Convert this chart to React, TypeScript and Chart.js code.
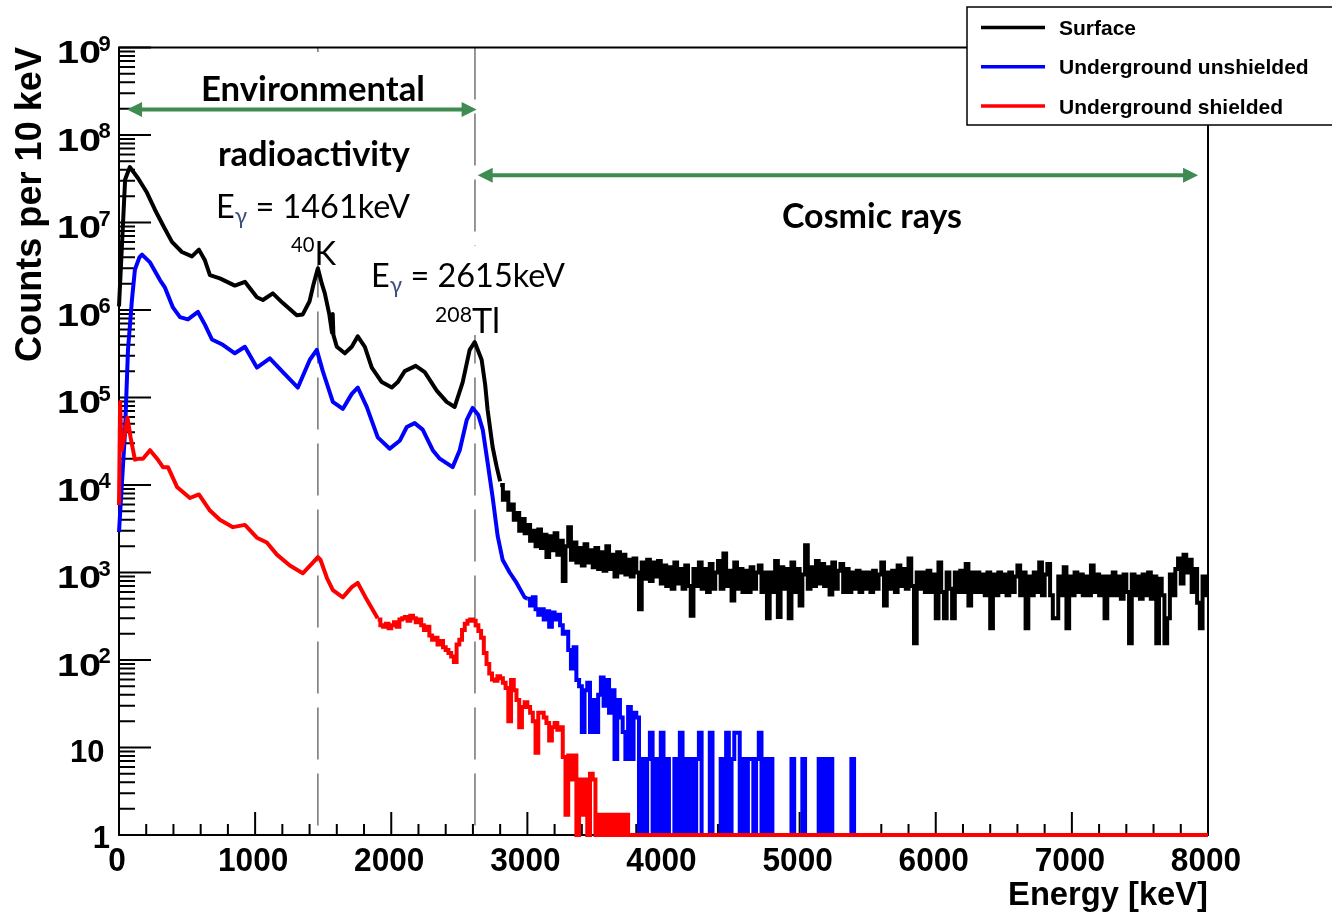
import React, { useEffect, useRef } from "react";
import { Chart, registerables } from "chart.js";

Chart.register(...registerables);

// ---------------- axes ----------------
const X_MIN = 0;
const X_MAX = 8000;
const Y_MIN = 1;
const Y_MAX = 1e9;
const BIN_WIDTH = 20; // keV, bin width used for the noisy parts of the spectra

const xTickLabels = ["0", "1000", "2000", "3000", "4000", "5000", "6000", "7000", "8000"];
const xMinorStep = 200;
const yDecadeExponents = [0, 1, 2, 3, 4, 5, 6, 7, 8, 9];
const xTitle = "Energy [keV]";
const yTitle = "Counts per 10 keV";

// ---------------- series ----------------
const seriesNames = ["Surface", "Underground unshielded", "Underground shielded"];
const seriesColors = ["#000000", "#0000ff", "#ff0000"];

// Surface: smooth part (energy keV, counts)
const surfaceSmoothEnergy = [
  0, 45, 80, 140, 205, 264, 323, 389, 462, 536, 587, 631, 668, 741, 851, 925, 1013, 1057, 1130, 1204,
  1306, 1350, 1400, 1430, 1461, 1490, 1512, 1545, 1565, 1570, 1575, 1600, 1659, 1710, 1754, 1806, 1857,
  1930, 2004, 2048, 2099, 2180, 2246, 2334, 2407, 2466, 2525, 2576, 2613, 2664, 2690, 2708, 2745, 2775, 2800,
];
const surfaceSmoothCounts = [
  1.1e6, 3.1e7, 4.3e7, 3.2e7, 2.2e7, 1.4e7, 9.3e6, 6.0e6, 4.6e6, 4.1e6, 4.9e6, 3.7e6, 2.5e6, 2.3e6, 1.9e6, 2.1e6, 1.4e6, 1.3e6, 1.55e6, 1.2e6,
  8.7e5, 8.9e5, 1.26e6, 2.0e6, 3.0e6, 2.0e6, 1.55e6, 8.9e5, 5.5e5, 9.0e5, 5.2e5, 3.8e5, 3.2e5, 3.8e5, 5.0e5, 3.8e5, 2.2e5,
  1.5e5, 1.3e5, 1.5e5, 2.0e5, 2.3e5, 1.95e5, 1.2e5, 8.9e4, 7.8e4, 1.5e5, 3.5e5, 4.3e5, 2.7e5, 1.4e5, 7.2e4, 2.7e4, 1.6e4, 1.1e4,
];
// Surface: binned (20 keV) part from 2800 keV
const surfaceBinStart = 2800;
const surfaceBinCounts = [
  10000, 6800, 8200, 5200, 6000, 4000, 4800, 3000, 4100, 2800,
  3500, 2300, 3000, 2000, 3100, 1900, 2700, 1500, 2600, 1800,
  2800, 1600, 2300, 800, 2000, 3300, 1400, 2200, 1300, 1900,
  1200, 2100, 1300, 1800, 1150, 1900, 1100, 1700, 1050, 2000,
  1100, 1600, 900, 1700, 1000, 1600, 950, 1400, 900, 1450,
  1000, 380, 1300, 850, 1400, 800, 1300, 900, 1350, 750,
  1200, 700, 1150, 650, 1300, 750, 1100, 650, 1200, 700,
  320, 1100, 700, 1300, 650, 1100, 600, 1250, 650, 1000,
  1350, 650, 1650, 700, 1050, 480, 1300, 650, 1100, 600,
  1050, 600, 1150, 650, 1000, 1200, 600, 1000, 300, 1000,
  600, 1350, 310, 1150, 650, 1100, 300, 1300, 600, 1100,
  420, 950, 2050, 650, 1150, 700, 1350, 750, 1250, 700,
  1150, 560, 1300, 650, 1050, 1250, 600, 1100, 600, 1000,
  650, 1050, 600, 1000, 650, 1000, 600, 1050, 650, 950,
  1300, 420, 1000, 650, 1050, 600, 1200, 700, 1100, 650,
  1450, 700, 155, 1000, 650, 1000, 600, 1050, 600, 950,
  300, 1300, 600, 300, 1000, 650, 300, 1000, 600, 1050,
  600, 1250, 420, 1000, 600, 1000, 600, 950, 550, 1000,
  230, 950, 550, 1000, 600, 950, 550, 1000, 600, 900,
  1200, 550, 1000, 230, 900, 550, 1000, 600, 1300, 550,
  950, 1250, 550, 300, 300, 900, 550, 1150, 230, 900,
  550, 1000, 600, 950, 550, 900, 550, 1200, 600, 950,
  550, 900, 300, 900, 550, 1000, 550, 900, 500, 950,
  600, 155, 950, 550, 900, 500, 950, 550, 1000, 500,
  900, 155, 850, 550, 155, 300, 950, 550, 1100, 1450,
  750, 1600, 1000, 1400, 600, 1100, 450, 230, 900, 550,
];

// Underground unshielded: smooth part
const unshieldedSmoothEnergy = [
  0, 44, 66, 95, 117, 150, 169, 228, 301, 338, 396, 448, 506, 580, 631, 683, 763, 851, 925, 1013,
  1108, 1204, 1314, 1402, 1453, 1497, 1571, 1644, 1710, 1754, 1820, 1901, 1989, 2062, 2114, 2172, 2231, 2305, 2356, 2451,
  2503, 2554, 2598, 2640, 2672, 2708, 2745, 2782, 2818, 2870, 2921, 2980, 3000,
];
const unshieldedSmoothCounts = [
  2900, 4.0e4, 3.5e5, 1.3e6, 2.9e6, 4.0e6, 4.3e6, 3.5e6, 2.2e6, 1.8e6, 1.07e6, 8.3e5, 7.8e5, 9.5e5, 6.8e5, 4.6e5, 4.0e5, 3.2e5, 3.8e5, 2.2e5,
  2.8e5, 1.95e5, 1.3e5, 2.7e5, 3.5e5, 2.0e5, 8.9e4, 7.4e4, 1.1e5, 1.3e5, 7.8e4, 3.5e4, 2.6e4, 3.2e4, 4.6e4, 5.1e4, 4.3e4, 2.5e4, 2.0e4, 1.6e4,
  2.5e4, 5.5e4, 7.6e4, 6.3e4, 4.3e4, 1.8e4, 7200, 2600, 1400, 1000, 760, 520, 500,
];
// Underground unshielded: binned (20 keV) part from 3000 keV
const unshieldedBinStart = 3000;
const unshieldedBinCounts = [
  500, 420, 520, 380, 330, 380, 290, 360, 240, 350,
  290, 330, 250, 200, 210, 130, 80, 140, 59, 50,
  15, 45, 55, 15, 35, 15, 40, 63, 30, 59,
  25, 45, 7.4, 35, 22, 15, 7.4, 29, 7.4, 25,
  22, 0, 7.4, 0, 7.4, 14.7, 0, 7.4, 0, 14.7,
  0, 7.4, 0, 0, 7.4, 0, 14.7, 0, 7.4, 0,
  7.4, 0, 7.4, 14.7, 0, 0, 0, 14.7, 0, 0,
  0, 7.4, 0, 14.7, 0, 7.4, 14.7, 14.7, 0, 7.4,
  0, 7.4, 7.4, 0, 7.4, 14.7, 0, 7.4, 0, 7.4,
  0, 0, 0, 0, 0, 0, 0, 7.4, 0, 0,
  0, 7.4, 0, 0, 0, 0, 0, 7.4, 0, 7.4,
  0, 7.4, 0, 0, 0, 0, 0, 0, 0, 7.4,
  0, 0,
];

// Underground shielded: smooth part
const shieldedSmoothEnergy = [
  0, 8, 20, 45, 62, 85, 117, 150, 176, 228, 280, 323, 360, 426, 521, 587, 668, 741, 837, 925,
  1013, 1086, 1160, 1255, 1350, 1424, 1461, 1480, 1527, 1571, 1644, 1710, 1754, 1820, 1900,
];
const shieldedSmoothCounts = [
  5900, 8.9e4, 2.5e4, 4.0e4, 5.9e4, 3.5e4, 1.95e4, 2.0e4, 2.0e4, 2.5e4, 2.0e4, 1.6e4, 1.6e4, 9500, 7100, 7800, 5100, 4000, 3300, 3500,
  2500, 2200, 1600, 1200, 980, 1300, 1500, 1400, 870, 630, 520, 680, 760, 490, 300,
];
// Underground shielded: binned (20 keV) part from 1900 keV
const shieldedBinStart = 1900;
const shieldedBinCounts = [
  290, 250, 240, 260, 230, 250, 270, 240, 290, 300,
  310, 280, 320, 300, 270, 290, 250, 220, 240, 190,
  170, 180, 150, 165, 140, 130, 120, 110, 95, 150,
  170, 220, 260, 280, 290, 280, 250, 215, 180, 120,
  90, 70, 60, 58, 65, 62, 55, 48, 20, 59,
  45, 35, 17, 29, 33, 29, 25, 20, 8.7, 25,
  25, 22, 19, 12, 17, 19, 16, 17, 7.8, 1.7,
  8.1, 4.3, 8.1, 0, 4.3, 1.7, 4.3, 0, 5.0, 4.3,
  0, 1.7, 0, 1.7, 0, 1.7, 0, 1.7, 0, 1.7,
  0, 1.7, 0, 0, 0,
];

// ---------------- annotations ----------------
const markerEnergies = [1461, 2615];
const envArrow = { from: 59, to: 2627, level: 1.95e8 };
const cosmicArrow = { from: 2635, to: 7927, level: 3.47e7 };
// white text-box backgrounds (pixel rectangles: left, top, right, bottom)
const textBoxes = [
  [196, 52, 432, 228],
  [288, 228, 340, 265],
  [366, 246, 570, 335],
];

const ROOT_FONT = '"Liberation Sans", Arial, sans-serif';
const NOTE_FONT = 'Lato, "Noto Sans", sans-serif';
const ARROW_GREEN = "#3f8b52";
const GAMMA_COLOR = "#3d4f7d";

// ---------------- helpers ----------------
const clampLog = (v: number) => (v > Y_MIN ? v : Y_MIN);
const smoothPoints = (E: number[], C: number[]) => E.map((e, i) => ({ x: e, y: clampLog(C[i]) }));
const binPoints = (start: number, counts: number[], closeAt: number) => {
  const pts = counts.map((c, i) => ({ x: start + i * BIN_WIDTH, y: clampLog(c) }));
  pts.push({ x: closeAt, y: clampLog(counts[counts.length - 1]) });
  return pts;
};

type Run = { t: string; s?: number; dy?: number; color?: string };
function drawRuns(ctx: CanvasRenderingContext2D, runs: Run[], left: number, baseline: number, weight: string, family: string, targetWidth: number) {
  const widthAt = (size: number) =>
    runs.reduce((w, r) => {
      ctx.font = `${weight} ${size * (r.s ?? 1)}px ${family}`;
      return w + ctx.measureText(r.t).width;
    }, 0);
  const size = (100 * targetWidth) / widthAt(100);
  let cx = left;
  ctx.textAlign = "left";
  ctx.textBaseline = "alphabetic";
  runs.forEach((r) => {
    ctx.font = `${weight} ${size * (r.s ?? 1)}px ${family}`;
    ctx.fillStyle = r.color ?? "#000";
    ctx.fillText(r.t, cx, baseline + (r.dy ?? 0));
    cx += ctx.measureText(r.t).width;
  });
}

function drawText(
  ctx: CanvasRenderingContext2D,
  text: string,
  o: { x: number; y: number; size: number; weight?: string; family?: string; align?: "left" | "right" | "center"; scaleX?: number; width?: number; color?: string }
) {
  ctx.font = `${o.weight ?? "bold"} ${o.size}px ${o.family ?? ROOT_FONT}`;
  const w = ctx.measureText(text).width;
  const sx = o.width ? o.width / w : o.scaleX ?? 1;
  const tw = w * sx;
  const left = o.align === "right" ? o.x - tw : o.align === "center" ? o.x - tw / 2 : o.x;
  ctx.save();
  ctx.translate(left, o.y);
  ctx.scale(sx, 1);
  ctx.textAlign = "left";
  ctx.textBaseline = "alphabetic";
  ctx.fillStyle = o.color ?? "#000";
  ctx.fillText(text, 0, 0);
  ctx.restore();
}

function drawArrow(ctx: CanvasRenderingContext2D, x1: number, x2: number, y: number) {
  const head = 15;
  const half = 7.5;
  ctx.strokeStyle = ARROW_GREEN;
  ctx.fillStyle = ARROW_GREEN;
  ctx.lineWidth = 4;
  ctx.beginPath();
  ctx.moveTo(x1 + head - 2, y);
  ctx.lineTo(x2 - head + 2, y);
  ctx.stroke();
  ctx.beginPath();
  ctx.moveTo(x1, y);
  ctx.lineTo(x1 + head, y - half);
  ctx.lineTo(x1 + head, y + half);
  ctx.closePath();
  ctx.fill();
  ctx.beginPath();
  ctx.moveTo(x2, y);
  ctx.lineTo(x2 - head, y - half);
  ctx.lineTo(x2 - head, y + half);
  ctx.closePath();
  ctx.fill();
}

const rootStylePlugin = {
  id: "rootStyle",
  beforeDatasetsDraw(chart: any) {
    const { ctx, chartArea: a } = chart;
    const xs = chart.scales.x;
    const ys = chart.scales.y;
    ctx.save();
    // marker energies (dashed)
    ctx.strokeStyle = "#7c7c7c";
    ctx.lineWidth = 1.6;
    ctx.setLineDash([52, 14]);
    markerEnergies.forEach((e) => {
      const px = xs.getPixelForValue(e);
      ctx.beginPath();
      ctx.moveTo(px, a.top);
      ctx.lineTo(px, a.bottom);
      ctx.stroke();
    });
    ctx.setLineDash([]);
    // white text boxes hide the dashed lines behind the annotations
    ctx.fillStyle = "#fff";
    textBoxes.forEach(([l, t, r, b]) => ctx.fillRect(l, t, r - l, b - t));
    // frame
    ctx.strokeStyle = "#000";
    ctx.lineWidth = 2;
    ctx.strokeRect(a.left, a.top, a.right - a.left, a.bottom - a.top);
    // ticks
    ctx.beginPath();
    yDecadeExponents.forEach((n) => {
      for (let m = 1; m <= 9; m++) {
        const v = m * Math.pow(10, n);
        if (v > Y_MAX) break;
        const py = ys.getPixelForValue(v);
        const len = m === 1 ? 32 : 16;
        ctx.moveTo(a.left, py);
        ctx.lineTo(a.left + len, py);
      }
    });
    for (let e = X_MIN; e <= X_MAX; e += xMinorStep) {
      const px = xs.getPixelForValue(e);
      const len = e % 1000 === 0 ? 23 : 11;
      ctx.moveTo(px, a.bottom);
      ctx.lineTo(px, a.bottom - len);
    }
    ctx.stroke();
    ctx.restore();
  },
  afterDraw(chart: any) {
    const { ctx, chartArea: a } = chart;
    const xs = chart.scales.x;
    const ys = chart.scales.y;
    ctx.save();

    // y tick labels
    yDecadeExponents.forEach((n) => {
      const py = ys.getPixelForValue(Math.pow(10, n));
      if (n === 0) {
        drawText(ctx, "1", { x: a.left - 9, y: py + 13, size: 31, align: "right" });
      } else if (n === 1) {
        drawText(ctx, "10", { x: a.left - 14.5, y: py + 14.5, size: 31, align: "right" });
      } else {
        drawText(ctx, "10", { x: a.left - 62, y: py + 15.5, size: 31, width: 44, align: "left" });
        drawText(ctx, String(n), { x: a.left - 20.5, y: py + 3, size: 22, align: "left" });
      }
    });

    // x tick labels
    xTickLabels.forEach((lbl) => {
      const px = xs.getPixelForValue(Number(lbl));
      drawText(ctx, lbl, { x: px - 2, y: a.bottom + 36, size: 34, scaleX: 0.93, align: "center" });
    });

    // axis titles
    ctx.font = `bold 100px ${ROOT_FONT}`;
    const xtSize = (100 * 200) / ctx.measureText(xTitle).width;
    drawText(ctx, xTitle, { x: a.right, y: 905, size: xtSize, align: "right" });

    ctx.font = `bold 100px ${ROOT_FONT}`;
    const ytSize = (100 * 315) / ctx.measureText(yTitle).width;
    ctx.save();
    ctx.translate(41, 204.5);
    ctx.rotate(-Math.PI / 2);
    ctx.font = `bold ${ytSize}px ${ROOT_FONT}`;
    ctx.fillStyle = "#000";
    ctx.textAlign = "center";
    ctx.textBaseline = "alphabetic";
    ctx.fillText(yTitle, 0, 0);
    ctx.restore();

    // annotation texts
    drawRuns(ctx, [{ t: "Environmental" }], 201, 101, "bold", NOTE_FONT, 224);
    drawRuns(ctx, [{ t: "radioactivity" }], 218, 166, "bold", NOTE_FONT, 192);
    drawRuns(ctx, [{ t: "E" }, { t: "γ", s: 0.7, dy: 6, color: GAMMA_COLOR }, { t: " = 1461keV" }], 216, 218, "normal", NOTE_FONT, 194);
    drawRuns(ctx, [{ t: "40", s: 0.62, dy: -13 }, { t: "K" }], 291, 265, "normal", NOTE_FONT, 45);
    drawRuns(ctx, [{ t: "E" }, { t: "γ", s: 0.7, dy: 6, color: GAMMA_COLOR }, { t: " = 2615keV" }], 371, 287, "normal", NOTE_FONT, 194);
    drawRuns(ctx, [{ t: "208", s: 0.62, dy: -11 }, { t: "Tl" }], 435, 333, "normal", NOTE_FONT, 65);
    drawRuns(ctx, [{ t: "Cosmic rays" }], 782, 228, "bold", NOTE_FONT, 180);

    // arrows
    drawArrow(ctx, xs.getPixelForValue(envArrow.from), xs.getPixelForValue(envArrow.to), ys.getPixelForValue(envArrow.level));
    drawArrow(ctx, xs.getPixelForValue(cosmicArrow.from), xs.getPixelForValue(cosmicArrow.to), ys.getPixelForValue(cosmicArrow.level));

    // legend
    const box = { left: 967, top: 7, right: 1345, bottom: 125 };
    ctx.fillStyle = "#fff";
    ctx.fillRect(box.left, box.top, box.right - box.left, box.bottom - box.top);
    ctx.strokeStyle = "#000";
    ctx.lineWidth = 1.5;
    ctx.strokeRect(box.left, box.top, box.right - box.left, box.bottom - box.top);
    seriesNames.forEach((name, i) => {
      const ry = 27.5 + i * 39.3;
      ctx.strokeStyle = seriesColors[i];
      ctx.lineWidth = 3.5;
      ctx.beginPath();
      ctx.moveTo(981, ry);
      ctx.lineTo(1045, ry);
      ctx.stroke();
      drawText(ctx, name, { x: 1059, y: ry + 7.5, size: 21, align: "left" });
    });
    ctx.restore();
  },
};

export default function App() {
  const canvasRef = useRef<HTMLCanvasElement | null>(null);

  useEffect(() => {
    document.body.style.margin = "0";
    const canvas = canvasRef.current;
    if (!canvas) return;

    const mk = (label: string, data: any[], i: number, stepped: boolean) => ({
      label,
      data,
      borderColor: seriesColors[i],
      backgroundColor: seriesColors[i],
      borderWidth: 4,
      pointRadius: 0,
      pointHoverRadius: 0,
      tension: 0,
      stepped: stepped ? true : false,
      fill: false,
      clip: 4,
      order: 3 - i,
      borderJoinStyle: stepped ? "miter" : "round",
    });

    const surfaceSmooth = smoothPoints(surfaceSmoothEnergy, surfaceSmoothCounts);
    const unshieldedSmooth = smoothPoints(unshieldedSmoothEnergy, unshieldedSmoothCounts);
    const shieldedSmooth = smoothPoints(shieldedSmoothEnergy, shieldedSmoothCounts);

    const chart = new Chart(canvas, {
      type: "line",
      data: {
        datasets: [
          mk(seriesNames[0], surfaceSmooth, 0, false),
          mk(seriesNames[0], binPoints(surfaceBinStart, surfaceBinCounts, X_MAX), 0, true),
          mk(seriesNames[1], unshieldedSmooth, 1, false),
          mk(seriesNames[1], binPoints(unshieldedBinStart, unshieldedBinCounts, X_MAX), 1, true),
          mk(seriesNames[2], shieldedSmooth, 2, false),
          mk(seriesNames[2], binPoints(shieldedBinStart, shieldedBinCounts, X_MAX), 2, true),
        ] as any,
      },
      options: {
        responsive: false,
        animation: false,
        devicePixelRatio: 1,
        layout: { padding: { left: 119, right: 1332 - 1208, top: 47.5, bottom: 916 - 835 } },
        plugins: { legend: { display: false }, tooltip: { enabled: false } },
        events: [],
        scales: {
          x: { type: "linear", min: X_MIN, max: X_MAX, display: false },
          y: { type: "logarithmic", min: Y_MIN, max: Y_MAX, display: false },
        },
      } as any,
      plugins: [rootStylePlugin],
    });

    return () => chart.destroy();
  }, []);

  return (
    <div style={{ width: 1332, height: 916, background: "#fff" }}>
      <canvas ref={canvasRef} width={1332} height={916} style={{ display: "block" }} />
    </div>
  );
}
